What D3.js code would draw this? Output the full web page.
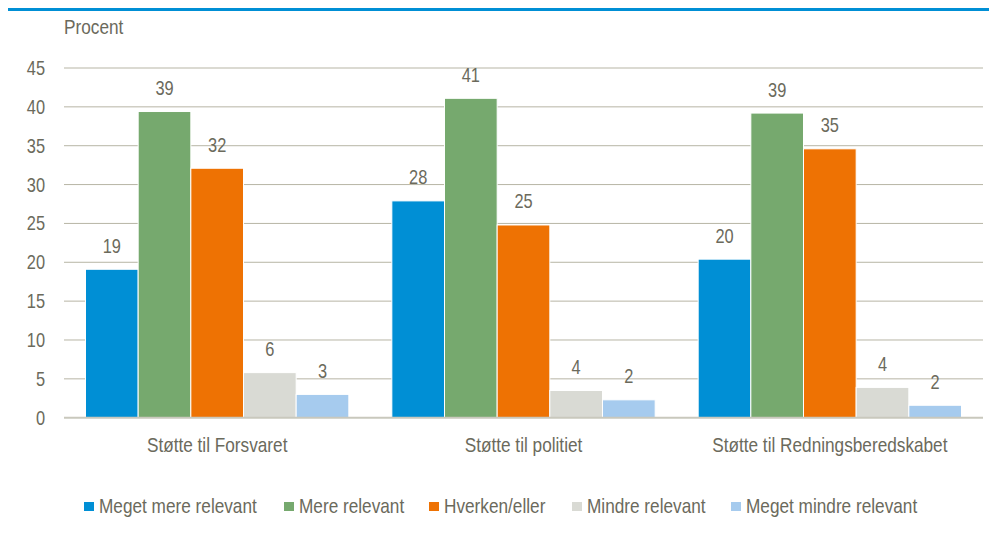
<!DOCTYPE html>
<html>
<head>
<meta charset="utf-8">
<script src="https://cdn.jsdelivr.net/npm/d3@7"></script>
<style>
  body { margin: 0; background: #fff; overflow: hidden; }
  text { font-family: "Liberation Sans", Arial, sans-serif; fill: #6b6a5c; }
</style>
</head>
<body>
<script>
// categories and series
var categories = ["Støtte til Forsvaret", "Støtte til politiet", "Støtte til Redningsberedskabet"];
var seriesNames = ["Meget mere relevant", "Mere relevant", "Hverken/eller", "Mindre relevant", "Meget mindre relevant"];
var seriesColors = ["#008fd5", "#76a96e", "#ee7203", "#d9dad4", "#a6cbee"];
var values = [
    [19.1, 39.4, 32.1, 5.8, 3.0],
    [27.9, 41.1, 24.8, 3.5, 2.3],
    [20.4, 39.2, 34.6, 3.9, 1.6]
];
var yTicks = [0, 5, 10, 15, 20, 25, 30, 35, 40, 45];

var width = 989,
    height = 544;

//no narrow font installed, so squeeze the regular one
var squeeze = 0.82;
function place(x, y){
    return "translate(" + x + "," + y + ") scale(" + squeeze + ",1)";
}

var svg = d3.select("body")
    .append("svg")
    .attr("width", width)
    .attr("height", height)
    .style("display", "block");

//blue rule at the top
svg.append("rect")
    .attr("x", 8).attr("y", 8)
    .attr("width", width - 8).attr("height", 3)
    .attr("fill", "#008fd5");

var plotLeft = 64, plotRight = 983, plotTop = 68, plotBottom = 417.7;

var x0 = d3.scaleBand()
    .domain(categories)
    .range([plotLeft, plotRight]);

var x1 = d3.scaleBand()
    .domain(seriesNames)
    .range([21.5, x0.bandwidth() - 21.5]);

var y = d3.scaleLinear()
    .domain([0, 45])
    .range([plotBottom, plotTop]);

//gridlines
svg.selectAll(".grid")
    .data(yTicks.slice(1))
    .enter()
    .append("line")
    .attr("x1", plotLeft).attr("x2", plotRight)
    .attr("y1", function(d){ return y(d); })
    .attr("y2", function(d){ return y(d); })
    .attr("stroke", "#b7b5a5")
    .attr("stroke-width", 1);

//y tick labels
svg.selectAll(".ytick")
    .data(yTicks)
    .enter()
    .append("text")
    .attr("transform", function(d){ return place(45, y(d) + 7); })
    .attr("text-anchor", "end")
    .style("font-size", "20px")
    .text(function(d){ return d; });

svg.append("text")
    .attr("transform", place(64, 34))
    .style("font-size", "21px")
    .text("Procent");

//bars
var groups = svg.selectAll(".group")
    .data(values)
    .enter()
    .append("g")
    .attr("transform", function(d, i){ return "translate(" + x0(categories[i]) + ",0)"; });

groups.selectAll("rect")
    .data(function(d){ return d; })
    .enter()
    .append("rect")
    .attr("x", function(d, j){ return x1(seriesNames[j]); })
    .attr("y", function(d){ return y(d); })
    .attr("width", x1.bandwidth())
    .attr("height", function(d){ return plotBottom - y(d); })
    .attr("fill", function(d, j){ return seriesColors[j]; })
    .attr("stroke", "#fff")
    .attr("stroke-width", 1);

groups.selectAll(".lbl")
    .data(function(d){ return d; })
    .enter()
    .append("text")
    .attr("transform", function(d, j){
        return place(x1(seriesNames[j]) + x1.bandwidth() / 2, y(d) - 16.5);
    })
    .attr("text-anchor", "middle")
    .style("font-size", "20px")
    .text(function(d){ return Math.round(d); });

//baseline
svg.append("line")
    .attr("x1", plotLeft).attr("x2", plotRight)
    .attr("y1", plotBottom).attr("y2", plotBottom)
    .attr("stroke", "#c9c8bd")
    .attr("stroke-width", 2);

//category labels
svg.selectAll(".cat")
    .data(categories)
    .enter()
    .append("text")
    .attr("transform", function(d){ return place(x0(d) + x0.bandwidth() / 2, 452); })
    .attr("text-anchor", "middle")
    .style("font-size", "21px")
    .text(function(d){ return d; });

//legend
var legendX = [84, 284, 429, 572, 731];
var legend = svg.selectAll(".legend")
    .data(seriesNames)
    .enter()
    .append("g")
    .attr("transform", function(d, i){ return "translate(" + legendX[i] + ",502)"; });

legend.append("rect")
    .attr("width", 10).attr("height", 9)
    .attr("fill", function(d, i){ return seriesColors[i]; });

legend.append("text")
    .attr("transform", place(15, 11))
    .style("font-size", "21px")
    .text(function(d){ return d; });
</script>
</body>
</html>
